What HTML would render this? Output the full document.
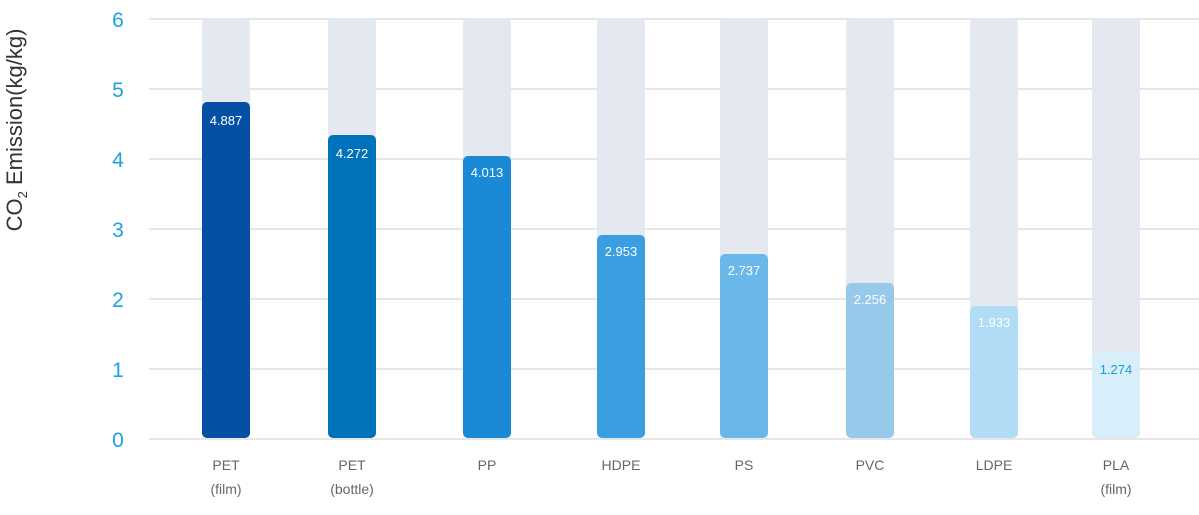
<!DOCTYPE html><html><head><style>body{margin:0;background:#fff}</style></head><body>
<svg width="1199" height="510" xmlns="http://www.w3.org/2000/svg" font-family="Liberation Sans, sans-serif">
<g stroke="#e6e6e6" stroke-width="2">
<line x1="149" x2="1199" y1="19" y2="19"/><line x1="149" x2="1199" y1="89" y2="89"/><line x1="149" x2="1199" y1="159" y2="159"/><line x1="149" x2="1199" y1="229" y2="229"/><line x1="149" x2="1199" y1="299" y2="299"/><line x1="149" x2="1199" y1="369" y2="369"/><line x1="149" x2="1199" y1="439" y2="439"/>
</g>
<g fill="#1aa3e0" font-size="21" text-anchor="middle">
<text x="118" y="27">6</text><text x="118" y="97">5</text><text x="118" y="167">4</text><text x="118" y="237">3</text><text x="118" y="307">2</text><text x="118" y="377">1</text><text x="118" y="447">0</text>
</g>
<text transform="translate(22,130) rotate(-90)" text-anchor="middle" font-size="22" fill="#333">CO<tspan font-size="13" dy="5">2</tspan><tspan dy="-5"> Emission(kg/kg)</tspan></text>
<g fill="#e4e9f1">
<rect x="202" y="18" width="48" height="420" rx="5"/><rect x="328" y="18" width="48" height="420" rx="5"/><rect x="463" y="18" width="48" height="420" rx="5"/><rect x="597" y="18" width="48" height="420" rx="5"/><rect x="720" y="18" width="48" height="420" rx="5"/><rect x="846" y="18" width="48" height="420" rx="5"/><rect x="970" y="18" width="48" height="420" rx="5"/><rect x="1092" y="18" width="48" height="420" rx="5"/>
</g>
<rect x="202" y="102" width="48" height="336" rx="5" fill="#0550a5"/>
<rect x="328" y="135" width="48" height="303" rx="5" fill="#0071bb"/>
<rect x="463" y="156" width="48" height="282" rx="5" fill="#1a8ad6"/>
<rect x="597" y="235" width="48" height="203" rx="5" fill="#3a9fe0"/>
<rect x="720" y="254" width="48" height="184" rx="5" fill="#6ab7ea"/>
<rect x="846" y="283" width="48" height="155" rx="5" fill="#97c9eb"/>
<rect x="970" y="306" width="48" height="132" rx="5" fill="#b1dcf5"/>
<rect x="1092" y="352" width="48" height="86" rx="5" fill="#d8eefb"/>
<g fill="#fff" font-size="13" text-anchor="middle">
<text x="226" y="125">4.887</text><text x="352" y="158">4.272</text><text x="487" y="177">4.013</text><text x="621" y="256">2.953</text><text x="744" y="275">2.737</text><text x="870" y="304">2.256</text><text x="994" y="327">1.933</text><text x="1116" y="374" fill="#1a9ad6">1.274</text>
</g>
<g fill="#666" font-size="14" text-anchor="middle">
<text x="226" y="470">PET</text><text x="226" y="494">(film)</text>
<text x="352" y="470">PET</text><text x="352" y="494">(bottle)</text>
<text x="487" y="470">PP</text><text x="621" y="470">HDPE</text><text x="744" y="470">PS</text><text x="870" y="470">PVC</text><text x="994" y="470">LDPE</text>
<text x="1116" y="470">PLA</text><text x="1116" y="494">(film)</text>
</g>
</svg></body></html>
